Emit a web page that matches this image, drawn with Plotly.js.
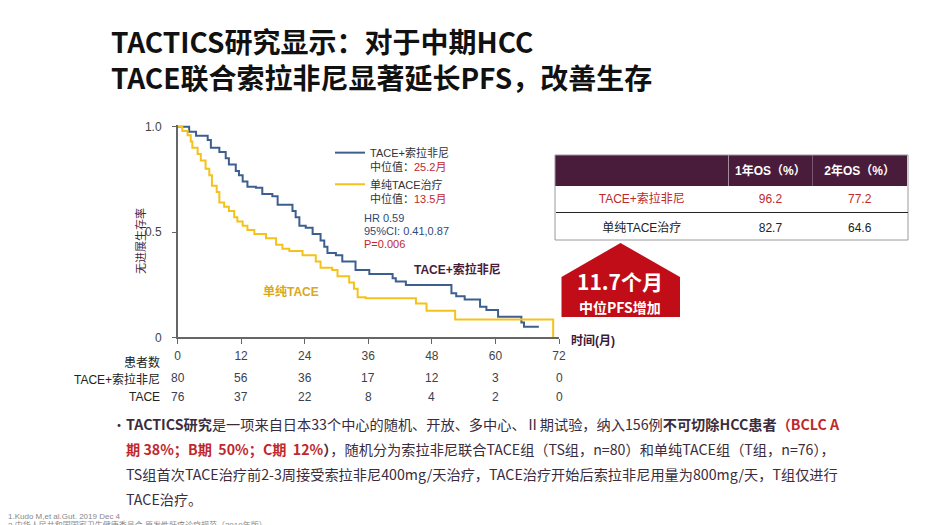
<!DOCTYPE html>
<html>
<head>
<meta charset="utf-8">
<script src="https://cdn.plot.ly/plotly-3.0.1.min.js"></script>
<style>html,body{margin:0;padding:0;background:#fff;}#chart{width:950px;height:525px;}</style>
</head>
<body>
<div id="chart"></div>
<script>
// ---- data ----
const tsTime = [0, 2.2, 3.5, 5.7, 6.3, 7.9, 9.1, 9.7, 11.0, 11.6, 12.3, 13.2, 14.8, 16.0, 17.9, 18.9, 21.7, 22.3, 23.0, 24.2, 25.5, 27.0, 27.7, 28.3, 29.9, 31.1, 33.6, 36.2, 40.6, 41.2, 43.1, 51.7, 52.6, 54.2, 57.1, 58.3, 60.5, 64.9, 65.4, 68.2];
const tsSurv = [1.0, 0.976, 0.957, 0.937, 0.90, 0.88, 0.85, 0.82, 0.79, 0.77, 0.74, 0.715, 0.71, 0.68, 0.67, 0.63, 0.60, 0.57, 0.53, 0.52, 0.49, 0.46, 0.43, 0.40, 0.39, 0.36, 0.32, 0.30, 0.28, 0.265, 0.248, 0.209, 0.195, 0.18, 0.145, 0.13, 0.098, 0.07, 0.05, 0.05];
const tTime = [0, 0.9, 1.9, 2.5, 2.8, 3.8, 4.4, 5.3, 6.0, 6.5, 7.4, 7.9, 8.8, 9.7, 10.7, 11.3, 12.3, 13.2, 14.5, 16.7, 18.6, 19.8, 21.1, 23.6, 26.1, 27.0, 29.2, 30.2, 32.4, 33.3, 34.0, 35.5, 45.0, 47.0, 52.4, 70.9];
const tSurv = [1.0, 0.98, 0.96, 0.93, 0.90, 0.87, 0.84, 0.80, 0.77, 0.72, 0.69, 0.64, 0.62, 0.60, 0.57, 0.55, 0.53, 0.51, 0.49, 0.47, 0.44, 0.42, 0.41, 0.39, 0.36, 0.33, 0.32, 0.29, 0.26, 0.23, 0.19, 0.185, 0.16, 0.126, 0.085, 0.0];
const riskTimes = [0, 12, 24, 36, 48, 60, 72];
const riskTS = [80, 56, 36, 17, 12, 3, 0];
const riskT = [76, 37, 22, 8, 4, 2, 0];
const tableRows = ['TACE+索拉非尼', '单纯TACE治疗'];
const os1 = [96.2, 82.7];
const os2 = [77.2, 64.6];
const tableHeader = ['', '1年OS（%）', '2年OS（%）'];

// ---- helpers (pixel -> paper) ----
const W = 950, H = 525;
const X = px => px / W;
const Y = py => 1 - py / H;
const FONT = '"Liberation Sans", Arial, "Noto Sans CJK SC", sans-serif';
const CJK = '"Noto Sans CJK SC", "Liberation Sans", sans-serif';
const RED = '#c0282d';
const BLUE = '#3d5f8f';
const GOLD = '#f5c21b';
const PURPLE = '#4a1c3c';

const traces = [
  {
    x: tsTime, y: tsSurv, type: 'scatter', mode: 'lines', line: {shape: 'hv', color: BLUE, width: 2},
    name: '<span style="color:#333">TACE+索拉非尼</span><br><span style="color:#333">中位值：</span><span style="color:' + RED + '">25.2月</span>'
  },
  {
    x: tTime, y: tSurv, type: 'scatter', mode: 'lines', line: {shape: 'hv', color: GOLD, width: 2},
    name: '<span style="color:#333">单纯TACE治疗</span><br><span style="color:#333">中位值：</span><span style="color:' + RED + '">13.5月</span>'
  },
  {
    type: 'table',
    domain: {x: [X(555), X(908)], y: [Y(240), Y(155)]},
    columnwidth: [174, 84, 95],
    header: {
      values: tableHeader.map(v => '<b>' + v + '</b>'),
      fill: {color: PURPLE},
      line: {color: PURPLE, width: 0},
      font: {family: FONT, size: 12, color: '#ffffff'},
      align: 'center', height: 28
    },
    cells: {
      values: [tableRows, os1.map(v => v.toFixed(1)), os2.map(v => v.toFixed(1))],
      fill: {color: '#ffffff'},
      line: {color: '#ffffff', width: 0},
      font: {family: FONT, size: 12, color: [[RED, '#222'], [RED, '#222'], [RED, '#222']]},
      align: 'center', height: 28.5
    }
  }
];

const annotations = [];
function addText(text, px, py, opts) {
  annotations.push(Object.assign({
    text: text, x: X(px), y: Y(py), xref: 'paper', yref: 'paper',
    showarrow: false, xanchor: 'left', yanchor: 'middle',
    font: {family: FONT, size: 12, color: '#333'}
  }, opts || {}));
}

// Title
addText('<b>TACTICS研究显示：对于中期HCC</b>', 109, 40.5, {font: {family: CJK, size: 28, color: '#111'}});
addText('<b>TACE联合索拉非尼显著延长PFS，改善生存</b>', 109, 77, {font: {family: CJK, size: 28, color: '#111'}});

// Y axis title
addText('无进展生存率', 140, 241, {textangle: -90, xanchor: 'center', font: {family: FONT, size: 11, color: PURPLE}});
// X axis title
addText('<b>时间(月)</b>', 569, 341, {font: {family: FONT, size: 12, color: '#3a1a3a'}});

// stats
addText('HR 0.59', 362, 218, {font: {family: FONT, size: 11, color: '#2e4a7a'}});
addText('95%CI: 0.41,0.87', 362, 231, {font: {family: FONT, size: 11, color: '#2e4a7a'}});
addText('P=0.006', 362, 244, {font: {family: FONT, size: 11, color: RED}});

// curve labels
addText('<b>TACE+索拉非尼</b>', 412, 269, {font: {family: FONT, size: 12, color: PURPLE}});
addText('<b>单纯TACE</b>', 261, 291, {font: {family: FONT, size: 12, color: '#d9a820'}});

// risk table
addText('患者数', 162, 362, {xanchor: 'right', font: {family: FONT, size: 12, color: '#222'}});
addText('TACE+索拉非尼', 162, 379, {xanchor: 'right', font: {family: FONT, size: 12, color: '#222'}});
addText('TACE', 162, 397, {xanchor: 'right', font: {family: FONT, size: 12, color: '#222'}});
riskTimes.forEach((t, i) => {
  annotations.push({text: String(riskTS[i]), x: t, xref: 'x', y: Y(378), yref: 'paper', showarrow: false,
    xanchor: 'center', yanchor: 'middle', font: {family: FONT, size: 12, color: '#3a4050'}});
  annotations.push({text: String(riskT[i]), x: t, xref: 'x', y: Y(397), yref: 'paper', showarrow: false,
    xanchor: 'center', yanchor: 'middle', font: {family: FONT, size: 12, color: '#3a4050'}});
});

// red box text
addText('<b>11.7个月</b>', 620, 281, {xanchor: 'center', font: {family: CJK, size: 21, color: '#fff'}});
addText('<b>中位PFS增加</b>', 620, 307, {xanchor: 'center', font: {family: CJK, size: 14, color: '#fff'}});

// bullet paragraph
const TX = '#3a2c3c';
const BODY = {family: CJK, size: 14.2, color: TX};
addText('•', 110, 424, {font: {family: CJK, size: 14, color: TX}});
addText('<b>TACTICS研究</b>是一项来自日本33个中心的随机、开放、多中心、Ⅱ期试验，纳入156例<b>不可切除HCC患者</b><b><span style="color:' + RED + '">（BCLC A</span></b>', 124, 424, {font: BODY});
addText('<b><span style="color:' + RED + '">期 38%；B期  50%；C期  12%</span>）</b>，随机分为索拉非尼联合TACE组（TS组，n=80）和单纯TACE组（T组，n=76），', 124, 449, {font: BODY});
addText('TS组首次TACE治疗前2-3周接受索拉非尼400mg/天治疗，TACE治疗开始后索拉非尼用量为800mg/天，T组仅进行', 124, 474, {font: BODY});
addText('TACE治疗。', 124, 499, {font: BODY});

// footnotes
addText('1.Kudo M,et al.Gut. 2019 Dec 4', 6, 516, {font: {family: FONT, size: 8, color: '#888'}});
addText('2.中华人民共和国国家卫生健康委员会.原发性肝癌诊疗规范（2019年版）', 6, 525, {font: {family: FONT, size: 8, color: '#888'}});

const shapes = [
  // red pentagon
  {type: 'path', xref: 'paper', yref: 'paper',
   path: 'M ' + X(620.5) + ',' + Y(243) + ' L ' + X(680) + ',' + Y(277) + ' L ' + X(680) + ',' + Y(317) +
         ' L ' + X(561.5) + ',' + Y(317) + ' L ' + X(561.5) + ',' + Y(277) + ' Z',
   fillcolor: '#c00d17', line: {width: 0}},
  // table frame
  {type: 'rect', xref: 'paper', yref: 'paper', x0: X(555), x1: X(908), y0: Y(240), y1: Y(155),
   line: {color: '#9a9a9a', width: 1}},
  {type: 'line', xref: 'paper', yref: 'paper', x0: X(556), x1: X(908), y0: Y(212.5), y1: Y(212.5),
   line: {color: '#222', width: 1}}
];

const layout = {
  width: W, height: H,
  margin: {l: 0, r: 0, t: 0, b: 0},
  paper_bgcolor: '#fff', plot_bgcolor: 'rgba(0,0,0,0)',
  showlegend: true,
  legend: {x: X(330), y: Y(139), xanchor: 'left', yanchor: 'top', bgcolor: 'rgba(0,0,0,0)',
    font: {family: FONT, size: 11, color: '#333'}, valign: 'top', tracegroupgap: 0},
  xaxis: {domain: [X(177.5), X(559)], range: [0, 72], tickvals: riskTimes, ticks: 'outside', ticklen: 5,
    tickcolor: '#666', tickwidth: 1, showline: true, linecolor: '#666', linewidth: 1.5, showgrid: false, zeroline: false,
    tickfont: {family: FONT, size: 12, color: '#444'}, ticklabelstandoff: 2, fixedrange: true},
  yaxis: {domain: [Y(337.3), Y(124.6)], range: [0, 1.01], tickvals: [0, 0.5, 1], ticktext: ['0', '0.5', '1.0'],
    ticks: 'outside', ticklen: 4, tickcolor: '#666', showline: true, linecolor: '#666', linewidth: 1.5,
    showgrid: false, zeroline: false, tickfont: {family: FONT, size: 12, color: '#444'}, ticklabelstandoff: 8, fixedrange: true},
  annotations: annotations,
  shapes: shapes
};

Plotly.newPlot('chart', traces, layout, {displayModeBar: false, staticPlot: true});
</script>
</body>
</html>
